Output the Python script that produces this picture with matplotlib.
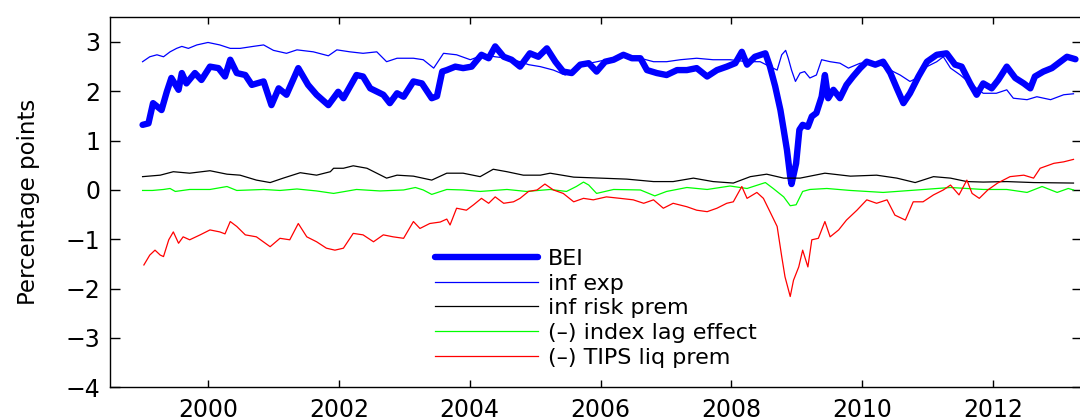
import numpy as np
import matplotlib
matplotlib.use("Agg")
import matplotlib.pyplot as plt

# BEI (thick blue)
bei_t = [1999.00, 1999.09, 1999.16, 1999.29, 1999.37, 1999.44, 1999.55, 1999.60, 1999.67, 1999.80,
         1999.90, 2000.03, 2000.16, 2000.26, 2000.34, 2000.44, 2000.57, 2000.67, 2000.85, 2000.97,
         2001.08, 2001.20, 2001.38, 2001.53, 2001.66, 2001.84, 2001.99, 2002.07, 2002.27, 2002.37,
         2002.48, 2002.68, 2002.78, 2002.89, 2002.99, 2003.14, 2003.27, 2003.42, 2003.50, 2003.58,
         2003.65, 2003.78, 2003.90, 2004.03, 2004.18, 2004.29, 2004.39, 2004.52, 2004.64, 2004.77,
         2004.92, 2005.05, 2005.18, 2005.31, 2005.43, 2005.56, 2005.69, 2005.82, 2005.94, 2006.07,
         2006.20, 2006.35, 2006.48, 2006.61, 2006.71, 2006.86, 2007.01, 2007.17, 2007.32, 2007.47,
         2007.63, 2007.78, 2007.93, 2008.06, 2008.16, 2008.24, 2008.36, 2008.52, 2008.59, 2008.67,
         2008.75, 2008.80, 2008.85, 2008.90, 2008.92, 2008.99, 2009.04, 2009.09, 2009.17, 2009.23,
         2009.30, 2009.38, 2009.43, 2009.48, 2009.56, 2009.66, 2009.76, 2009.86, 2009.97, 2010.07,
         2010.20, 2010.32, 2010.43, 2010.53, 2010.63, 2010.73, 2010.86, 2010.99, 2011.14, 2011.29,
         2011.42, 2011.52, 2011.65, 2011.75, 2011.85, 2011.98, 2012.08, 2012.21, 2012.34, 2012.47,
         2012.57, 2012.64, 2012.77, 2012.90, 2013.03, 2013.13, 2013.26]
bei_v = [1.32, 1.35, 1.76, 1.62, 1.99, 2.27, 2.03, 2.37, 2.16, 2.37,
         2.23, 2.50, 2.47, 2.30, 2.64, 2.37, 2.33, 2.13, 2.20, 1.72,
         2.06, 1.93, 2.47, 2.13, 1.93, 1.72, 1.99, 1.86, 2.33, 2.30,
         2.06, 1.93, 1.76, 1.96, 1.89, 2.20, 2.16, 1.86, 1.90, 2.40,
         2.43, 2.50, 2.47, 2.50, 2.74, 2.67, 2.91, 2.70, 2.64, 2.50,
         2.77, 2.70, 2.87, 2.60, 2.40, 2.37, 2.54, 2.57, 2.40, 2.60,
         2.64, 2.74, 2.67, 2.67, 2.43, 2.37, 2.33, 2.43, 2.43, 2.47,
         2.30, 2.43, 2.50, 2.57, 2.80, 2.54, 2.70, 2.77, 2.50, 2.10,
         1.62, 1.22, 0.81, 0.27, 0.12, 0.54, 1.22, 1.32, 1.28, 1.49,
         1.56, 1.89, 2.33, 1.86, 2.03, 1.86, 2.13, 2.30, 2.47, 2.60,
         2.54, 2.60, 2.37, 2.06, 1.76, 1.96, 2.30, 2.60, 2.74, 2.77,
         2.54, 2.50, 2.16, 1.93, 2.16, 2.06, 2.23, 2.50, 2.27, 2.16,
         2.06, 2.30, 2.40, 2.47, 2.60, 2.70, 2.65]

# inflation expectations (thin blue)
exp_t = [1999.00, 1999.11, 1999.22, 1999.32, 1999.42, 1999.52, 1999.60, 1999.70, 1999.83, 2000.00,
         2000.18, 2000.34, 2000.49, 2000.69, 2000.85, 2001.00, 2001.20, 2001.36, 2001.61, 2001.84,
         2001.97, 2002.17, 2002.37, 2002.58, 2002.73, 2002.89, 2003.14, 2003.29, 2003.45, 2003.60,
         2003.80, 2004.01, 2004.21, 2004.39, 2004.57, 2004.77, 2004.90, 2005.08, 2005.28, 2005.46,
         2005.63, 2005.84, 2006.09, 2006.35, 2006.61, 2006.81, 2007.01, 2007.22, 2007.47, 2007.72,
         2007.98, 2008.24, 2008.44, 2008.59, 2008.70, 2008.77, 2008.83, 2008.87, 2008.92, 2008.98,
         2009.05, 2009.12, 2009.20, 2009.30, 2009.38, 2009.51, 2009.66, 2009.79, 2009.97, 2010.22,
         2010.43, 2010.58, 2010.73, 2010.84, 2010.99, 2011.14, 2011.24, 2011.35, 2011.50, 2011.65,
         2011.85, 2012.05, 2012.21, 2012.31, 2012.52, 2012.67, 2012.88, 2013.08, 2013.23]
exp_v = [2.60, 2.70, 2.74, 2.70, 2.80, 2.87, 2.91, 2.87, 2.94, 2.99,
         2.94, 2.87, 2.87, 2.91, 2.94, 2.83, 2.77, 2.84, 2.80, 2.72,
         2.84, 2.80, 2.77, 2.80, 2.60, 2.67, 2.67, 2.64, 2.47, 2.77,
         2.74, 2.64, 2.74, 2.70, 2.67, 2.60, 2.54, 2.50, 2.43, 2.33,
         2.47, 2.57, 2.64, 2.74, 2.67, 2.60, 2.60, 2.64, 2.67, 2.64,
         2.64, 2.60, 2.60, 2.50, 2.43, 2.74, 2.83, 2.67, 2.43, 2.20,
         2.37, 2.40, 2.27, 2.33, 2.64, 2.60, 2.57, 2.47, 2.57, 2.57,
         2.43, 2.33, 2.20, 2.27, 2.50, 2.60, 2.70, 2.47, 2.33, 2.16,
         1.96, 1.96, 2.03, 1.86, 1.83, 1.89, 1.83, 1.93, 1.95]

# inflation risk premium (black)
irp_t = [1999.00, 1999.27, 1999.47, 1999.72, 2000.03, 2000.29, 2000.49, 2000.74, 2000.95, 2001.15,
         2001.41, 2001.66, 2001.87, 2001.92, 2002.07, 2002.22, 2002.43, 2002.58, 2002.73, 2002.89,
         2003.14, 2003.42, 2003.65, 2003.90, 2004.16, 2004.36, 2004.57, 2004.82, 2005.08, 2005.23,
         2005.59, 2006.00, 2006.40, 2006.81, 2007.11, 2007.42, 2007.72, 2008.03, 2008.29, 2008.54,
         2008.80, 2009.05, 2009.43, 2009.82, 2010.22, 2010.53, 2010.81, 2011.09, 2011.35, 2011.60,
         2011.85, 2012.21, 2012.62, 2013.23]
irp_v = [0.27, 0.30, 0.37, 0.34, 0.39, 0.32, 0.30, 0.20, 0.15, 0.24,
         0.35, 0.30, 0.37, 0.44, 0.44, 0.49, 0.44, 0.34, 0.24, 0.30,
         0.28, 0.20, 0.34, 0.34, 0.27, 0.42, 0.37, 0.30, 0.30, 0.34,
         0.26, 0.24, 0.22, 0.17, 0.17, 0.24, 0.17, 0.14, 0.27, 0.32,
         0.24, 0.24, 0.34, 0.28, 0.30, 0.24, 0.15, 0.27, 0.24, 0.17,
         0.16, 0.17, 0.15, 0.14]

# (-) index lag effect (green)
lag_t = [1999.00, 1999.15, 1999.32, 1999.42, 1999.50, 1999.72, 2000.03, 2000.29, 2000.44, 2000.85,
         2001.10, 2001.36, 2001.66, 2001.92, 2002.27, 2002.63, 2002.99, 2003.17, 2003.29, 2003.42,
         2003.65, 2003.90, 2004.16, 2004.57, 2004.87, 2005.23, 2005.48, 2005.63, 2005.74, 2005.82,
         2005.94, 2006.20, 2006.61, 2006.83, 2007.01, 2007.32, 2007.63, 2007.98, 2008.24, 2008.52,
         2008.64, 2008.80, 2008.90, 2008.99, 2009.09, 2009.20, 2009.46, 2009.82, 2010.32, 2010.84,
         2011.35, 2011.85, 2012.21, 2012.52, 2012.75, 2012.98, 2013.15, 2013.23]
lag_v = [-0.01, -0.01, 0.01, 0.03, -0.03, 0.01, 0.01, 0.07, -0.01, 0.01,
         -0.01, 0.02, -0.02, -0.07, 0.01, -0.02, 0.00, 0.05, 0.00, -0.09,
         0.01, 0.00, -0.03, 0.01, -0.03, 0.01, -0.03, 0.07, 0.16, 0.10,
         -0.07, 0.01, 0.00, -0.12, -0.03, 0.05, 0.01, 0.08, 0.03, 0.15,
         0.03, -0.14, -0.32, -0.30, -0.03, 0.01, 0.03, -0.01, -0.05, 0.00,
         0.05, 0.01, 0.01, -0.05, 0.07, -0.05, 0.03, 0.00]

# (-) TIPS liquidity premium (red)
liq_t = [1999.02, 1999.11, 1999.19, 1999.27, 1999.32, 1999.40, 1999.47, 1999.55, 1999.62, 1999.72,
         1999.88, 2000.03, 2000.18, 2000.26, 2000.34, 2000.44, 2000.57, 2000.74, 2000.95, 2001.10,
         2001.25, 2001.38, 2001.51, 2001.66, 2001.81, 2001.94, 2002.07, 2002.22, 2002.37, 2002.53,
         2002.68, 2002.83, 2002.99, 2003.14, 2003.24, 2003.39, 2003.55, 2003.65, 2003.70, 2003.80,
         2003.95, 2004.06, 2004.18, 2004.29, 2004.39, 2004.52, 2004.67, 2004.77, 2004.90, 2005.03,
         2005.15, 2005.28, 2005.43, 2005.59, 2005.74, 2005.89, 2006.09, 2006.30, 2006.50, 2006.66,
         2006.81, 2006.96, 2007.11, 2007.32, 2007.47, 2007.63, 2007.78, 2007.93, 2008.03, 2008.16,
         2008.24, 2008.39, 2008.49, 2008.59, 2008.70, 2008.77, 2008.82, 2008.90, 2008.95, 2009.03,
         2009.09, 2009.17, 2009.23, 2009.33, 2009.43, 2009.51, 2009.64, 2009.76, 2009.92, 2010.07,
         2010.22, 2010.38, 2010.50, 2010.66, 2010.78, 2010.93, 2011.09, 2011.24, 2011.35, 2011.48,
         2011.60, 2011.68, 2011.79, 2011.92, 2012.07, 2012.26, 2012.47, 2012.62, 2012.72, 2012.93,
         2013.08, 2013.23]
liq_v = [-1.52, -1.32, -1.22, -1.32, -1.35, -1.01, -0.85, -1.08, -0.95, -1.01,
         -0.91, -0.81, -0.85, -0.89, -0.64, -0.74, -0.91, -0.95, -1.15, -0.98,
         -1.01, -0.68, -0.95, -1.05, -1.18, -1.22, -1.18, -0.88, -0.91, -1.05,
         -0.91, -0.95, -0.98, -0.64, -0.78, -0.68, -0.65, -0.59, -0.71, -0.37,
         -0.41, -0.30, -0.17, -0.27, -0.14, -0.27, -0.24, -0.17, -0.03, 0.00,
         0.12, 0.00, -0.07, -0.24, -0.17, -0.20, -0.14, -0.17, -0.20, -0.27,
         -0.20, -0.37, -0.27, -0.34, -0.41, -0.44, -0.37, -0.27, -0.24, 0.07,
         -0.17, -0.05, -0.17, -0.44, -0.74, -1.35, -1.76, -2.16, -1.83, -1.56,
         -1.22, -1.56, -1.01, -0.98, -0.64, -0.95, -0.81, -0.61, -0.41, -0.20,
         -0.27, -0.20, -0.51, -0.61, -0.24, -0.24, -0.10, 0.00, 0.10, -0.10,
         0.20, -0.07, -0.17, 0.00, 0.14, 0.27, 0.30, 0.24, 0.44, 0.54,
         0.57, 0.62]

labels = ["BEI", "inf exp", "inf risk prem", "(\u2013) index lag effect", "(\u2013) TIPS liq prem"]
xticks = [2000, 2002, 2004, 2006, 2008, 2010, 2012]
yticks = [-4, -3, -2, -1, 0, 1, 2, 3]

plt.rcParams['font.family'] = ['DejaVu Sans']

fig = plt.figure(figsize=(10.8, 4.17), dpi=100)
ax = fig.add_axes([110 / 1080, 1 - 387.3 / 417, 972 / 1080, 370 / 417])

ax.plot(bei_t, bei_v, color=(0, 0, 1), lw=4.6, label=labels[0], solid_capstyle='round')
ax.plot(exp_t, exp_v, color=(0, 0, 1), lw=0.9, label=labels[1])
ax.plot(irp_t, irp_v, color='black', lw=0.9, label=labels[2])
ax.plot(lag_t, lag_v, color=(0, 1, 0), lw=0.9, label=labels[3])
ax.plot(liq_t, liq_v, color=(1, 0, 0), lw=0.9, label=labels[4])

ax.set_xlim(1998.502, 2013.36)
ax.set_ylim(-4, 3.5)
ax.set_xticks(xticks)
ax.set_yticks(yticks)
ax.tick_params(axis='both', direction='in', top=True, right=True, labelsize=17, width=1.0)
ax.tick_params(axis='x', length=5, pad=8)
ax.tick_params(axis='y', length=7, pad=7)
for s in ax.spines.values():
    s.set_linewidth(1.0)

ax.set_ylabel("Percentage points", fontsize=16.5)
ax.yaxis.set_label_coords(-0.072, 0.5)

ax.legend(loc='upper left', bbox_to_anchor=(0.334, 0.374), frameon=False, fontsize=16,
          handlelength=4.64, handletextpad=0.45, labelspacing=0.21, borderpad=0, borderaxespad=0)

fig.savefig("out.png", dpi=100)
